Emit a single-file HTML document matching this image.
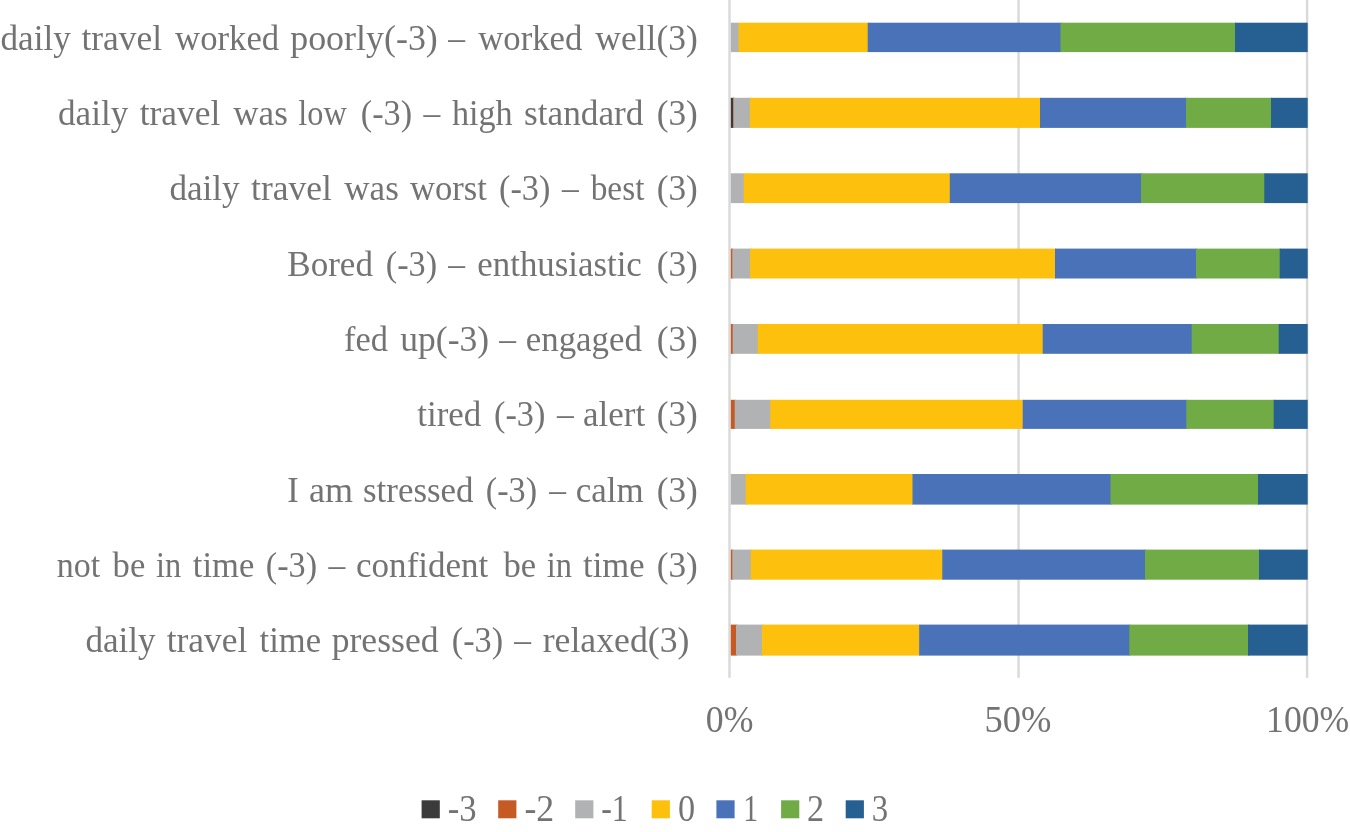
<!DOCTYPE html>
<html><head><meta charset="utf-8"><title>chart</title>
<style>
html,body{margin:0;padding:0;background:#fff;}
body{width:1350px;height:832px;overflow:hidden;position:relative;}
svg{position:absolute;left:0;top:0;display:block;will-change:transform;}
text{font-family:"Liberation Serif",serif;font-size:36.5px;fill:#737373;}
</style></head><body>
<svg width="1350" height="832" viewBox="0 0 1350 832">
<rect x="0" y="0" width="1350" height="832" fill="#ffffff"/>
<g id="grid">
<rect x="728.30" y="0" width="2.40" height="677.8" fill="#d9d9d9"/>
<rect x="1017.35" y="0" width="2.40" height="677.8" fill="#d9d9d9"/>
<rect x="1305.90" y="0" width="2.40" height="677.8" fill="#d9d9d9"/>
</g>
<g id="bars">
<rect x="730.80" y="22.70" width="8.80" height="29.40" fill="#b1b2b3"/>
<rect x="738.60" y="22.70" width="130.10" height="29.40" fill="#fcc00d"/>
<rect x="867.70" y="22.70" width="193.80" height="29.40" fill="#4a72b8"/>
<rect x="1060.50" y="22.70" width="175.50" height="29.40" fill="#70ab46"/>
<rect x="1235.00" y="22.70" width="72.70" height="29.40" fill="#265f92"/>
<rect x="730.80" y="97.80" width="3.20" height="30.10" fill="#3b3b3b"/>
<rect x="733.00" y="97.80" width="1.50" height="30.10" fill="#c55a25"/>
<rect x="733.50" y="97.80" width="17.30" height="30.10" fill="#b1b2b3"/>
<rect x="749.80" y="97.80" width="291.20" height="30.10" fill="#fcc00d"/>
<rect x="1040.00" y="97.80" width="147.00" height="30.10" fill="#4a72b8"/>
<rect x="1186.00" y="97.80" width="86.00" height="30.10" fill="#70ab46"/>
<rect x="1271.00" y="97.80" width="36.70" height="30.10" fill="#265f92"/>
<rect x="730.80" y="173.30" width="13.90" height="29.80" fill="#b1b2b3"/>
<rect x="743.70" y="173.30" width="207.10" height="29.80" fill="#fcc00d"/>
<rect x="949.80" y="173.30" width="192.20" height="29.80" fill="#4a72b8"/>
<rect x="1141.00" y="173.30" width="124.30" height="29.80" fill="#70ab46"/>
<rect x="1264.30" y="173.30" width="43.40" height="29.80" fill="#265f92"/>
<rect x="730.80" y="248.60" width="2.50" height="29.90" fill="#c55a25"/>
<rect x="732.30" y="248.60" width="18.70" height="29.90" fill="#b1b2b3"/>
<rect x="750.00" y="248.60" width="306.00" height="29.90" fill="#fcc00d"/>
<rect x="1055.00" y="248.60" width="142.00" height="29.90" fill="#4a72b8"/>
<rect x="1196.00" y="248.60" width="84.70" height="29.90" fill="#70ab46"/>
<rect x="1279.70" y="248.60" width="28.00" height="29.90" fill="#265f92"/>
<rect x="730.80" y="324.00" width="2.90" height="29.80" fill="#c55a25"/>
<rect x="732.70" y="324.00" width="26.00" height="29.80" fill="#b1b2b3"/>
<rect x="757.70" y="324.00" width="286.00" height="29.80" fill="#fcc00d"/>
<rect x="1042.70" y="324.00" width="150.00" height="29.80" fill="#4a72b8"/>
<rect x="1191.70" y="324.00" width="88.00" height="29.80" fill="#70ab46"/>
<rect x="1278.70" y="324.00" width="29.00" height="29.80" fill="#265f92"/>
<rect x="730.80" y="399.80" width="4.90" height="29.10" fill="#c55a25"/>
<rect x="734.70" y="399.80" width="36.50" height="29.10" fill="#b1b2b3"/>
<rect x="770.20" y="399.80" width="253.50" height="29.10" fill="#fcc00d"/>
<rect x="1022.70" y="399.80" width="164.60" height="29.10" fill="#4a72b8"/>
<rect x="1186.30" y="399.80" width="88.40" height="29.10" fill="#70ab46"/>
<rect x="1273.70" y="399.80" width="34.00" height="29.10" fill="#265f92"/>
<rect x="730.80" y="474.00" width="15.90" height="30.60" fill="#b1b2b3"/>
<rect x="745.70" y="474.00" width="167.80" height="30.60" fill="#fcc00d"/>
<rect x="912.50" y="474.00" width="199.00" height="30.60" fill="#4a72b8"/>
<rect x="1110.50" y="474.00" width="148.50" height="30.60" fill="#70ab46"/>
<rect x="1258.00" y="474.00" width="49.70" height="30.60" fill="#265f92"/>
<rect x="730.80" y="549.60" width="2.50" height="30.10" fill="#c55a25"/>
<rect x="732.30" y="549.60" width="19.40" height="30.10" fill="#b1b2b3"/>
<rect x="750.70" y="549.60" width="192.60" height="30.10" fill="#fcc00d"/>
<rect x="942.30" y="549.60" width="203.70" height="30.10" fill="#4a72b8"/>
<rect x="1145.00" y="549.60" width="115.00" height="30.10" fill="#70ab46"/>
<rect x="1259.00" y="549.60" width="48.70" height="30.10" fill="#265f92"/>
<rect x="730.80" y="624.60" width="6.20" height="31.00" fill="#c55a25"/>
<rect x="736.00" y="624.60" width="26.90" height="31.00" fill="#b1b2b3"/>
<rect x="761.90" y="624.60" width="158.30" height="31.00" fill="#fcc00d"/>
<rect x="919.20" y="624.60" width="211.10" height="31.00" fill="#4a72b8"/>
<rect x="1129.30" y="624.60" width="119.70" height="31.00" fill="#70ab46"/>
<rect x="1248.00" y="624.60" width="59.70" height="31.00" fill="#265f92"/>
</g>
<g id="labels">
<text transform="translate(0.54 49.80) scale(0.9624 1)">daily</text>
<text transform="translate(81.45 49.80) scale(0.9717 1)">travel</text>
<text transform="translate(175.07 49.80) scale(0.9509 1)">worked</text>
<text transform="translate(290.20 49.80) scale(0.9842 1)">poorly(-3)</text>
<text transform="translate(448.24 49.80) scale(0.9178 1)">–</text>
<text transform="translate(478.22 49.80) scale(0.9509 1)">worked</text>
<text transform="translate(595.30 49.80) scale(0.9727 1)">well(3)</text>
<text transform="translate(58.04 125.13) scale(0.9624 1)">daily</text>
<text transform="translate(139.70 125.13) scale(0.9717 1)">travel</text>
<text transform="translate(233.30 125.13) scale(0.9611 1)">was</text>
<text transform="translate(298.30 125.13) scale(0.8846 1)">low</text>
<text transform="translate(360.76 125.13) scale(0.9380 1)">(-3)</text>
<text transform="translate(423.59 125.13) scale(0.9178 1)">–</text>
<text transform="translate(452.00 125.13) scale(0.9359 1)">high</text>
<text transform="translate(524.03 125.13) scale(0.9665 1)">standard</text>
<text transform="translate(656.73 125.13) scale(0.9652 1)">(3)</text>
<text transform="translate(169.39 200.47) scale(0.9624 1)">daily</text>
<text transform="translate(251.05 200.47) scale(0.9717 1)">travel</text>
<text transform="translate(344.30 200.47) scale(0.9611 1)">was</text>
<text transform="translate(410.00 200.47) scale(0.9473 1)">worst</text>
<text transform="translate(499.06 200.47) scale(0.9380 1)">(-3)</text>
<text transform="translate(561.89 200.47) scale(0.9178 1)">–</text>
<text transform="translate(590.70 200.47) scale(0.9138 1)">best</text>
<text transform="translate(656.73 200.47) scale(0.9652 1)">(3)</text>
<text transform="translate(287.34 275.80) scale(0.9596 1)">Bored</text>
<text transform="translate(385.76 275.80) scale(0.9380 1)">(-3)</text>
<text transform="translate(448.24 275.80) scale(0.9178 1)">–</text>
<text transform="translate(477.35 275.80) scale(0.9549 1)">enthusiastic</text>
<text transform="translate(656.73 275.80) scale(0.9652 1)">(3)</text>
<text transform="translate(344.06 351.13) scale(0.9415 1)">fed</text>
<text transform="translate(400.30 351.13) scale(0.9738 1)">up(-3)</text>
<text transform="translate(499.24 351.13) scale(0.9178 1)">–</text>
<text transform="translate(525.74 351.13) scale(0.9555 1)">engaged</text>
<text transform="translate(656.73 351.13) scale(0.9652 1)">(3)</text>
<text transform="translate(417.30 426.46) scale(0.9559 1)">tired</text>
<text transform="translate(494.06 426.46) scale(0.9380 1)">(-3)</text>
<text transform="translate(556.89 426.46) scale(0.9178 1)">–</text>
<text transform="translate(583.04 426.46) scale(0.9577 1)">alert</text>
<text transform="translate(656.73 426.46) scale(0.9652 1)">(3)</text>
<text transform="translate(287.36 501.80) scale(0.9400 1)">I</text>
<text transform="translate(309.01 501.80) scale(0.9884 1)">am</text>
<text transform="translate(363.04 501.80) scale(0.9562 1)">stressed</text>
<text transform="translate(485.76 501.80) scale(0.9380 1)">(-3)</text>
<text transform="translate(549.24 501.80) scale(0.9178 1)">–</text>
<text transform="translate(575.74 501.80) scale(0.9577 1)">calm</text>
<text transform="translate(656.73 501.80) scale(0.9652 1)">(3)</text>
<text transform="translate(56.70 577.13) scale(0.9312 1)">not</text>
<text transform="translate(112.60 577.13) scale(0.9474 1)">be</text>
<text transform="translate(156.00 577.13) scale(0.8884 1)">in</text>
<text transform="translate(192.82 577.13) scale(0.9481 1)">time</text>
<text transform="translate(265.76 577.13) scale(0.9380 1)">(-3)</text>
<text transform="translate(328.59 577.13) scale(0.9178 1)">–</text>
<text transform="translate(356.04 577.13) scale(0.9605 1)">confident</text>
<text transform="translate(503.40 577.13) scale(0.9474 1)">be</text>
<text transform="translate(546.70 577.13) scale(0.8884 1)">in</text>
<text transform="translate(583.12 577.13) scale(0.9481 1)">time</text>
<text transform="translate(656.73 577.13) scale(0.9652 1)">(3)</text>
<text transform="translate(85.39 652.46) scale(0.9624 1)">daily</text>
<text transform="translate(166.70 652.46) scale(0.9717 1)">travel</text>
<text transform="translate(259.57 652.46) scale(0.9481 1)">time</text>
<text transform="translate(331.70 652.46) scale(0.9761 1)">pressed</text>
<text transform="translate(451.76 652.46) scale(0.9380 1)">(-3)</text>
<text transform="translate(514.24 652.46) scale(0.9178 1)">–</text>
<text transform="translate(542.70 652.46) scale(0.9785 1)">relaxed(3)</text>
</g>
<g id="axis">
<text transform="translate(705.82 731.60) scale(0.9778 1.03)">0%</text>
<text transform="translate(984.50 731.60) scale(1.0000 1.03)">50%</text>
<text transform="translate(1266.07 731.60) scale(0.9761 1.03)">100%</text>
</g>
<g id="legend">
<rect x="421.6" y="800.3" width="18.2" height="18" fill="#3b3b3b"/>
<text transform="translate(447.65 821.20) scale(0.9519 1.035)">-3</text>
<rect x="498.2" y="800.3" width="18.2" height="18" fill="#c55a25"/>
<text transform="translate(524.42 821.20) scale(0.9803 1.035)">-2</text>
<rect x="575.2" y="800.3" width="18.2" height="18" fill="#b1b2b3"/>
<text transform="translate(601.13 821.20) scale(0.8737 1.035)">-1</text>
<rect x="651.7" y="800.3" width="18.2" height="18" fill="#fcc00d"/>
<text transform="translate(678.06 821.20) scale(0.9375 1.035)">0</text>
<rect x="716.4" y="800.3" width="18.2" height="18" fill="#4a72b8"/>
<text transform="translate(743.16 821.20) scale(0.8143 1.035)">1</text>
<rect x="781.1" y="800.3" width="18.2" height="18" fill="#70ab46"/>
<text transform="translate(807.06 821.20) scale(0.9375 1.035)">2</text>
<rect x="845.7" y="800.3" width="18.2" height="18" fill="#265f92"/>
<text transform="translate(871.70 821.20) scale(0.9000 1.035)">3</text>
</g>
</svg>
</body></html>
